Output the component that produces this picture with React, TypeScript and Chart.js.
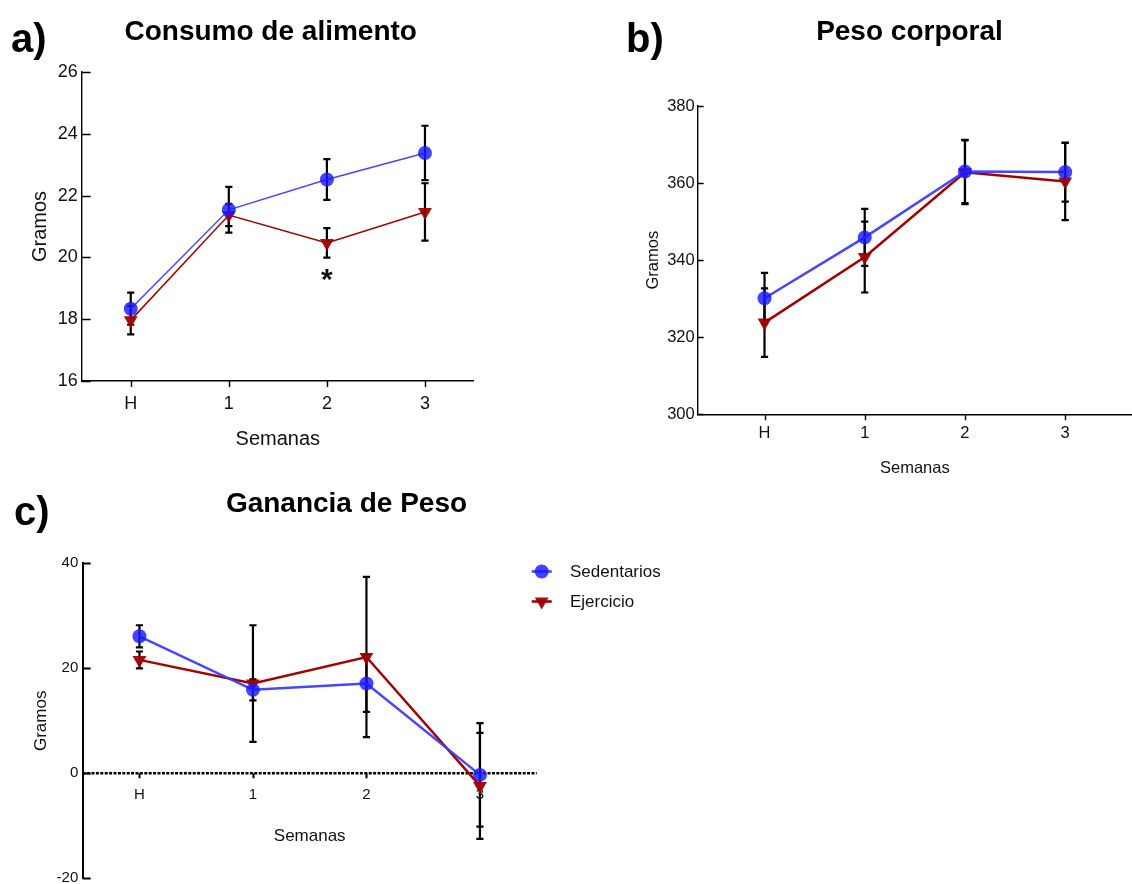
import React, { useEffect, useRef } from "react";
import { Chart, registerables } from "chart.js";

Chart.register(...registerables);

const W = 1132;
const H = 884;
const FONT = "'Liberation Sans', Arial, Helvetica, sans-serif";

// Semanas del experimento
const semanas = ["H", "1", "2", "3"];
const serieNames = ["Sedentarios", "Ejercicio"];

// a) Consumo de alimento (g)
const consumoSed = [18.34, 21.54, 22.52, 23.38];
const consumoSedErr = [0.52, 0.74, 0.66, 0.88];
const consumoEj = [17.97, 21.37, 20.47, 21.47];
const consumoEjErr = [0.46, 0.36, 0.48, 0.93];

// b) Peso corporal (g)
const pesoSed = [330.1, 345.9, 363.0, 362.85];
const pesoSedErr = [6.6, 7.4, 8.2, 7.65];
const pesoEj = [323.8, 340.8, 362.8, 360.4];
const pesoEjErr = [8.9, 9.2, 8.3, 10.0];

// c) Ganancia de peso (g)
const gananciaSed = [26.1, 15.9, 17.1, -0.3];
const gananciaSedErr = [2.1, 2.0, 5.4, 9.85];
const gananciaEj = [21.6, 17.1, 22.15, -2.4];
const gananciaEjErr = [1.6, 11.1, 15.25, 10.1];

const SED_FILL = "rgba(25, 25, 255, 0.82)";
const SED_LINE = "rgba(60, 60, 255, 0.95)";
const EJ_FILL = "rgba(160, 0, 0, 0.95)";
const EJ_LINE = "#a50000";
const INK = "#111";

const Y_W = 60; // fixed width of the y axis box
const X_H = 80; // fixed height of the x axis box

type Area = { left: number; top: number; right: number; bottom: number };

type Spec = {
  area: Area;
  xMin: number;
  xMax: number;
  yMin: number;
  yMax: number;
  yStep: number;
  sed: number[];
  sedErr: number[];
  ej: number[];
  ejErr: number[];
  tickSize: number;
  titleSize: number;
  yTickPad: number;
  yTitlePad: number;
  xTickPad: number;
  xTitlePad: number;
  yTickLen: number;
  xTickLen: number;
  axisWidth: number;
  lineWidth: number;
  zeroAxis?: boolean;
  mark?: { dataset: number; index: number; text: string; dy: number; size: number };
  key?: { x0: number; x1: number; textX: number; rows: number[]; size: number };
};

// vertical error bars (mean ± error) behind the markers
const errorBarsPlugin = {
  id: "errorBars",
  beforeDatasetsDraw(chart: any) {
    const ctx = chart.ctx;
    const ys = chart.scales.y;
    chart.data.datasets.forEach((ds: any, di: number) => {
      const errs: number[] | undefined = ds.errors;
      if (!errs) return;
      const meta = chart.getDatasetMeta(di);
      meta.data.forEach((pt: any, i: number) => {
        const v = ds.data[i].y;
        const e = errs[i];
        const top = ys.getPixelForValue(v + e);
        const bot = ys.getPixelForValue(v - e);
        const cap = 3.6;
        ctx.save();
        ctx.strokeStyle = "#000";
        ctx.lineWidth = 2.2;
        ctx.beginPath();
        ctx.moveTo(pt.x, top);
        ctx.lineTo(pt.x, bot);
        ctx.moveTo(pt.x - cap, top);
        ctx.lineTo(pt.x + cap, top);
        ctx.moveTo(pt.x - cap, bot);
        ctx.lineTo(pt.x + cap, bot);
        ctx.stroke();
        ctx.restore();
      });
    });
  },
};

// tick marks: inward on the y axis, downward on the x axis; dotted zero line
const axisTicksPlugin = {
  id: "axisTicks",
  beforeDatasetsDraw(chart: any, _args: any, opts: any) {
    const ctx = chart.ctx;
    const { x: xs, y: ys } = chart.scales;
    const area = chart.chartArea;
    ctx.save();
    if (opts.zeroAxis) {
      const z = ys.getPixelForValue(0);
      ctx.strokeStyle = "#000";
      ctx.lineWidth = 2.6;
      ctx.setLineDash([3, 1.4]);
      ctx.beginPath();
      ctx.moveTo(area.left, z);
      ctx.lineTo(area.right, z);
      ctx.stroke();
      ctx.setLineDash([]);
    }
    ctx.strokeStyle = "#000";
    ctx.lineWidth = opts.width;
    ctx.beginPath();
    ys.ticks.forEach((t: any) => {
      const py = Math.round(ys.getPixelForValue(t.value)) + 0.5;
      ctx.moveTo(area.left, py);
      ctx.lineTo(area.left + opts.yLen, py);
    });
    const base = opts.zeroAxis ? ys.getPixelForValue(0) : area.bottom;
    xs.ticks.forEach((t: any) => {
      const px = Math.round(xs.getPixelForValue(t.value)) + 0.5;
      ctx.moveTo(px, base);
      ctx.lineTo(px, base + opts.xLen);
    });
    ctx.stroke();
    ctx.restore();
  },
};

// significance mark under a data point
const markPlugin = {
  id: "marca",
  afterDatasetsDraw(chart: any, _args: any, opts: any) {
    if (!opts || !opts.text) return;
    const ds = chart.data.datasets[opts.dataset];
    const pt = chart.getDatasetMeta(opts.dataset).data[opts.index];
    const ys = chart.scales.y;
    const low = ds.data[opts.index].y - ds.errors[opts.index];
    const ctx = chart.ctx;
    ctx.save();
    ctx.fillStyle = INK;
    ctx.font = `bold ${opts.size}px ${FONT}`;
    ctx.textAlign = "center";
    ctx.textBaseline = "alphabetic";
    ctx.fillText(opts.text, pt.x, ys.getPixelForValue(low) + opts.dy);
    ctx.restore();
  },
};

function drawMarker(ctx: any, style: string, cx: number, cy: number, r: number) {
  ctx.beginPath();
  if (style === "triangle") {
    const s = Math.sin(Math.PI / 3) * r;
    ctx.moveTo(cx, cy + r);
    ctx.lineTo(cx - s, cy - r / 2);
    ctx.lineTo(cx + s, cy - r / 2);
    ctx.closePath();
  } else {
    ctx.arc(cx, cy, r, 0, Math.PI * 2);
  }
  ctx.fill();
}

// series key built from the datasets
const serieKeyPlugin = {
  id: "serieKey",
  afterDraw(chart: any, _args: any, opts: any) {
    if (!opts || !opts.rows) return;
    const ctx = chart.ctx;
    chart.data.datasets.forEach((ds: any, i: number) => {
      const y = opts.rows[i];
      ctx.save();
      ctx.strokeStyle = ds.borderColor;
      ctx.lineWidth = 2.6;
      ctx.beginPath();
      ctx.moveTo(opts.x0, y);
      ctx.lineTo(opts.x1, y);
      ctx.stroke();
      ctx.fillStyle = ds.pointBackgroundColor;
      drawMarker(ctx, ds.pointStyle, (opts.x0 + opts.x1) / 2, y, ds.pointRadius);
      ctx.fillStyle = INK;
      ctx.font = `${opts.size}px ${FONT}`;
      ctx.textAlign = "left";
      ctx.textBaseline = "middle";
      ctx.fillText(ds.label, opts.textX, y + 1);
      ctx.restore();
    });
  },
};

function makeConfig(s: Spec): any {
  const pts = (vals: number[]) => vals.map((v, i) => ({ x: i, y: v }));
  const a = s.area;
  return {
    type: "line",
    data: {
      datasets: [
        {
          label: serieNames[0],
          data: pts(s.sed),
          errors: s.sedErr,
          borderColor: SED_LINE,
          backgroundColor: SED_FILL,
          pointBackgroundColor: SED_FILL,
          pointBorderWidth: 0,
          pointRadius: 7,
          pointStyle: "circle",
          borderWidth: s.lineWidth,
          tension: 0,
        },
        {
          label: serieNames[1],
          data: pts(s.ej),
          errors: s.ejErr,
          borderColor: EJ_LINE,
          backgroundColor: EJ_FILL,
          pointBackgroundColor: EJ_FILL,
          pointBorderWidth: 0,
          pointRadius: 8,
          pointStyle: "triangle",
          pointRotation: 180,
          borderWidth: s.lineWidth,
          tension: 0,
        },
      ],
    },
    options: {
      responsive: false,
      animation: false,
      events: [],
      layout: {
        autoPadding: false,
        padding: {
          left: a.left - Y_W,
          top: a.top,
          right: W - a.right,
          bottom: H - a.bottom - (s.zeroAxis ? 0 : X_H),
        },
      },
      plugins: {
        legend: { display: false },
        tooltip: { enabled: false },
        axisTicks: { yLen: s.yTickLen, xLen: s.xTickLen, width: s.axisWidth, zeroAxis: !!s.zeroAxis },
        marca: s.mark || {},
        serieKey: s.key || {},
      },
      scales: {
        x: {
          type: "linear",
          position: s.zeroAxis ? { y: 0 } : "bottom",
          min: s.xMin,
          max: s.xMax,
          afterFit: (sc: any) => {
            sc.height = X_H;
            sc.paddingLeft = 0;
            sc.paddingRight = 0;
            sc.paddingTop = 0;
            sc.paddingBottom = 0;
          },
          afterBuildTicks: (sc: any) => {
            sc.ticks = semanas.map((_, i) => ({ value: i }));
          },
          grid: { display: false, drawTicks: false },
          border: { display: !s.zeroAxis, color: "#000", width: s.axisWidth },
          ticks: {
            autoSkip: false,
            maxRotation: 0,
            color: INK,
            padding: s.xTickPad,
            font: { family: FONT, size: s.tickSize },
            callback: (v: number) => semanas[v] ?? "",
          },
          title: {
            display: true,
            text: "Semanas",
            color: INK,
            font: { family: FONT, size: s.titleSize },
            padding: { top: 0, bottom: s.xTitlePad },
          },
        },
        y: {
          type: "linear",
          position: "left",
          min: s.yMin,
          max: s.yMax,
          afterFit: (sc: any) => {
            sc.width = Y_W;
            sc.paddingLeft = 0;
            sc.paddingRight = 0;
            sc.paddingTop = 0;
            sc.paddingBottom = 0;
          },
          grid: { display: false, drawTicks: false },
          border: { display: true, color: "#000", width: s.axisWidth },
          ticks: {
            stepSize: s.yStep,
            color: INK,
            padding: s.yTickPad,
            font: { family: FONT, size: s.tickSize },
          },
          title: {
            display: true,
            text: "Gramos",
            color: INK,
            font: { family: FONT, size: s.titleSize },
            padding: { top: s.yTitlePad, bottom: 0 },
          },
        },
      },
    },
    plugins: [errorBarsPlugin, axisTicksPlugin, markPlugin, serieKeyPlugin],
  };
}

const panelA: Spec = {
  area: { left: 81.7, top: 72, right: 474, bottom: 381 },
  xMin: -0.5,
  xMax: 3.5,
  yMin: 16,
  yMax: 26,
  yStep: 2,
  sed: consumoSed,
  sedErr: consumoSedErr,
  ej: consumoEj,
  ejErr: consumoEjErr,
  tickSize: 18,
  titleSize: 20,
  yTickPad: 4,
  yTitlePad: 6.8,
  xTickPad: 12.7,
  xTitlePad: 9.5,
  yTickLen: 9,
  xTickLen: 6,
  axisWidth: 1.4,
  lineWidth: 1.5,
  mark: { dataset: 1, index: 2, text: "*", dy: 31, size: 30 },
};

const panelB: Spec = {
  area: { left: 697.7, top: 106, right: 1142, bottom: 414.3 },
  xMin: -2 / 3,
  xMax: 11 / 3,
  yMin: 300,
  yMax: 380,
  yStep: 20,
  sed: pesoSed,
  sedErr: pesoSedErr,
  ej: pesoEj,
  ejErr: pesoEjErr,
  tickSize: 16.5,
  titleSize: 16.5,
  yTickPad: 3,
  yTitlePad: 5.7,
  xTickPad: 9.1,
  xTitlePad: 16.1,
  yTickLen: 6,
  xTickLen: 6,
  axisWidth: 1.4,
  lineWidth: 2.5,
};

const panelC: Spec = {
  area: { left: 82.7, top: 563.3, right: 536.7, bottom: 878.3 },
  xMin: -0.5,
  xMax: 3.5,
  yMin: -20,
  yMax: 40,
  yStep: 20,
  sed: gananciaSed,
  sedErr: gananciaSedErr,
  ej: gananciaEj,
  ejErr: gananciaEjErr,
  tickSize: 15,
  titleSize: 17,
  yTickPad: 4.4,
  yTitlePad: 8.1,
  xTickPad: 12.3,
  xTitlePad: 6.8,
  yTickLen: 8,
  xTickLen: 5,
  axisWidth: 2,
  lineWidth: 2.5,
  zeroAxis: true,
  key: { x0: 531.7, x1: 551.7, textX: 570, rows: [571.5, 601.5], size: 17 },
};

function Panel({ spec }: { spec: Spec }) {
  const ref = useRef<HTMLCanvasElement | null>(null);
  useEffect(() => {
    if (!ref.current) return;
    const chart = new Chart(ref.current, makeConfig(spec));
    return () => chart.destroy();
  }, [spec]);
  return (
    <canvas
      ref={ref}
      width={W}
      height={H}
      style={{ position: "absolute", left: 0, top: 0, width: W, height: H }}
    />
  );
}

// text placed by its alphabetic baseline (line-height 1, Liberation Sans metrics)
function Text({
  text,
  x,
  baseline,
  size,
  center,
}: {
  text: string;
  x: number;
  baseline: number;
  size: number;
  center?: boolean;
}) {
  const top = baseline - 0.8465 * size;
  const style: React.CSSProperties = {
    position: "absolute",
    top,
    left: center ? x - 300 : x,
    width: center ? 600 : undefined,
    textAlign: center ? "center" : "left",
    fontFamily: FONT,
    fontWeight: "bold",
    fontSize: size,
    lineHeight: 1,
    color: "#000",
    whiteSpace: "nowrap",
  };
  return <div style={style}>{text}</div>;
}

export default function App() {
  return (
    <div
      style={{
        position: "absolute",
        left: 0,
        top: 0,
        width: W,
        height: H,
        overflow: "hidden",
        background: "#fff",
      }}
    >
      <Panel spec={panelA} />
      <Panel spec={panelB} />
      <Panel spec={panelC} />
      <Text text="a)" x={11} baseline={51.5} size={40} />
      <Text text="b)" x={626} baseline={51.5} size={40} />
      <Text text="c)" x={14} baseline={525} size={40} />
      <Text text="Consumo de alimento" x={270.7} baseline={40.7} size={28} center />
      <Text text="Peso corporal" x={909.5} baseline={40.7} size={28} center />
      <Text text="Ganancia de Peso" x={346.5} baseline={513} size={28} center />
    </div>
  );
}
